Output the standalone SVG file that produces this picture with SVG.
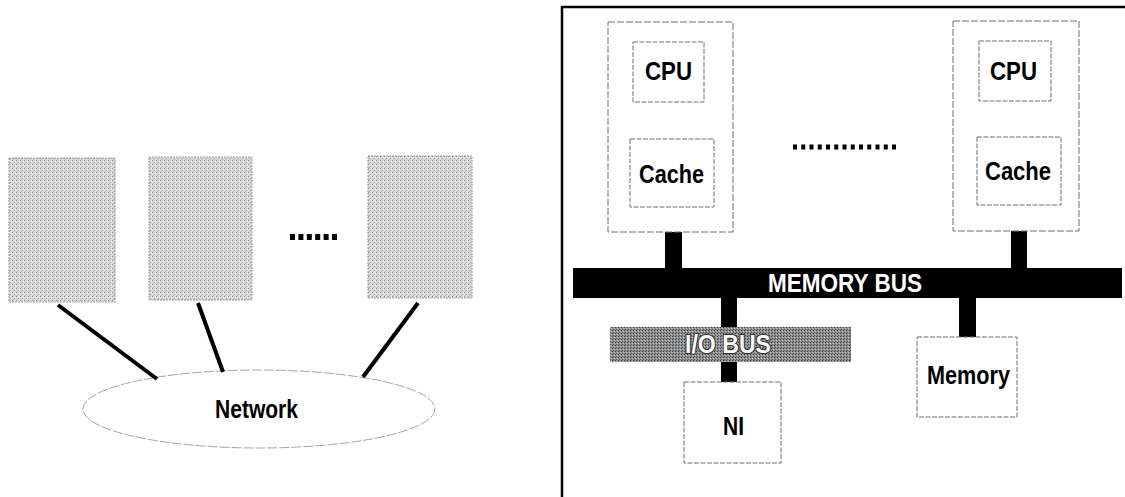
<svg xmlns="http://www.w3.org/2000/svg" width="1125" height="497" viewBox="0 0 1125 497">
<defs>
<pattern id="stip" width="4" height="4" patternUnits="userSpaceOnUse">
<rect width="4" height="4" fill="#dadada"/>
<rect x="0" y="0" width="1" height="1" fill="#8c8c8c"/>
<rect x="2" y="2" width="1" height="1" fill="#a0a0a0"/>
<rect x="3" y="1" width="1" height="1" fill="#f4f4f4"/>
<rect x="1" y="3" width="1" height="1" fill="#bdbdbd"/>
</pattern>
<pattern id="iostip" width="3" height="3" patternUnits="userSpaceOnUse">
<rect width="3" height="3" fill="#8e8e8e"/>
<rect x="0" y="0" width="1" height="1" fill="#3e3e3e"/>
<rect x="2" y="1" width="1" height="1" fill="#c4c4c4"/>
<rect x="1" y="2" width="1" height="1" fill="#5e5e5e"/>
</pattern>
</defs>
<style>
.lbl{font-family:"Liberation Sans",Arial,sans-serif;font-weight:bold;font-size:26px;fill:#000;text-anchor:middle}
.wlbl{font-family:"Liberation Sans",Arial,sans-serif;font-weight:bold;font-size:26px;fill:#fff;text-anchor:middle}
.iolbl{font-family:"Liberation Sans",Arial,sans-serif;font-weight:bold;font-size:26px;fill:#fafafa;stroke:#333;stroke-width:2.2;paint-order:stroke;text-anchor:middle}
.node{fill:#fff;stroke:#6e6e6e;stroke-width:1;stroke-dasharray:5 1.5}
.outer{fill:#fff;stroke:#6e6e6e;stroke-width:1;stroke-dasharray:7 2}
.gray{fill:url(#stip);stroke:#9a9a9a;stroke-width:1;stroke-dasharray:2 1}
.thick{stroke:#000;stroke-width:4;stroke-linecap:butt}
.bus{fill:#000}
.thin{stroke:#888;stroke-width:1;stroke-dasharray:3 2}
</style>
<rect width="1125" height="497" fill="#fff"/>

<!-- Left: network of nodes -->
<g id="node-left-1"><rect class="gray" x="9" y="158" width="106" height="144"/></g>
<g id="node-left-2"><rect class="gray" x="149" y="157" width="103" height="143"/></g>
<g id="node-left-3"><rect class="gray" x="368" y="156" width="104" height="142"/></g>
<g id="dots-left"><line x1="290" y1="237" x2="337" y2="237" stroke="#000" stroke-width="6" stroke-dasharray="5 3.4"/></g>
<g id="network">
<ellipse cx="259" cy="409" rx="176" ry="39" fill="#fff" stroke="#a5a5a5" stroke-width="1" stroke-dasharray="10 2"/>
<text class="lbl" x="256.5" y="418" textLength="83" lengthAdjust="spacingAndGlyphs">Network</text>
</g>
<g id="connectors-left">
<line class="thick" x1="58" y1="305" x2="157" y2="379"/>
<line class="thick" x1="198" y1="303" x2="223" y2="372"/>
<line class="thick" x1="418" y1="303" x2="363" y2="377"/>
</g>

<!-- Right: frame -->
<g id="frame">
<line x1="562" y1="7" x2="1125" y2="7" stroke="#000" stroke-width="2.5"/>
<line x1="562" y1="6" x2="562" y2="497" stroke="#000" stroke-width="2.5"/>
</g>

<!-- Connectors (bus stubs) -->
<g id="connectors-right">
<rect class="bus" x="665" y="231" width="17" height="39"/>
<rect class="bus" x="1011" y="230" width="16" height="39"/>
<rect class="bus" x="721" y="297" width="16" height="31"/>
<rect class="bus" x="721" y="361" width="16" height="21"/>
<rect class="bus" x="959" y="297" width="17" height="40"/>
<line class="thin" x1="671" y1="102" x2="671" y2="139"/>
<line class="thin" x1="1017" y1="101" x2="1017" y2="137"/>
</g>

<g id="proc-left">
<rect class="outer" x="608" y="22" width="125" height="210"/>
<g id="cpu-left">
<rect class="node" x="633" y="42" width="71" height="60"/>
<text class="lbl" x="668.5" y="80" textLength="47" lengthAdjust="spacingAndGlyphs">CPU</text>
</g>
<g id="cache-left">
<rect class="node" x="630" y="139" width="84" height="68"/>
<text class="lbl" x="671.5" y="183" textLength="65" lengthAdjust="spacingAndGlyphs">Cache</text>
</g>
</g>

<g id="dots-right"><line x1="793" y1="147" x2="896" y2="147" stroke="#000" stroke-width="5" stroke-dasharray="4 4.25"/></g>

<g id="proc-right">
<rect class="outer" x="953" y="21" width="126" height="210"/>
<g id="cpu-right">
<rect class="node" x="979" y="41" width="72" height="60"/>
<text class="lbl" x="1013.5" y="80" textLength="47" lengthAdjust="spacingAndGlyphs">CPU</text>
</g>
<g id="cache-right">
<rect class="node" x="977" y="137" width="84" height="68"/>
<text class="lbl" x="1018" y="180" textLength="66" lengthAdjust="spacingAndGlyphs">Cache</text>
</g>
</g>

<g id="memory-bus">
<rect class="bus" x="573" y="268" width="549" height="30"/>
<text class="wlbl" x="845" y="292" textLength="154" lengthAdjust="spacingAndGlyphs">MEMORY  BUS</text>
</g>

<g id="io-bus">
<rect x="610" y="327" width="241" height="35" fill="url(#iostip)"/>
<text class="iolbl" x="728" y="353" textLength="86" lengthAdjust="spacingAndGlyphs">I/O BUS</text>
</g>

<g id="ni">
<rect class="node" x="684" y="382" width="97" height="81"/>
<text class="lbl" x="733.5" y="435" textLength="21" lengthAdjust="spacingAndGlyphs">NI</text>
</g>

<g id="memory">
<rect class="node" x="917" y="337" width="100" height="80"/>
<text class="lbl" x="968.5" y="384" textLength="83" lengthAdjust="spacingAndGlyphs">Memory</text>
</g>
</svg>
